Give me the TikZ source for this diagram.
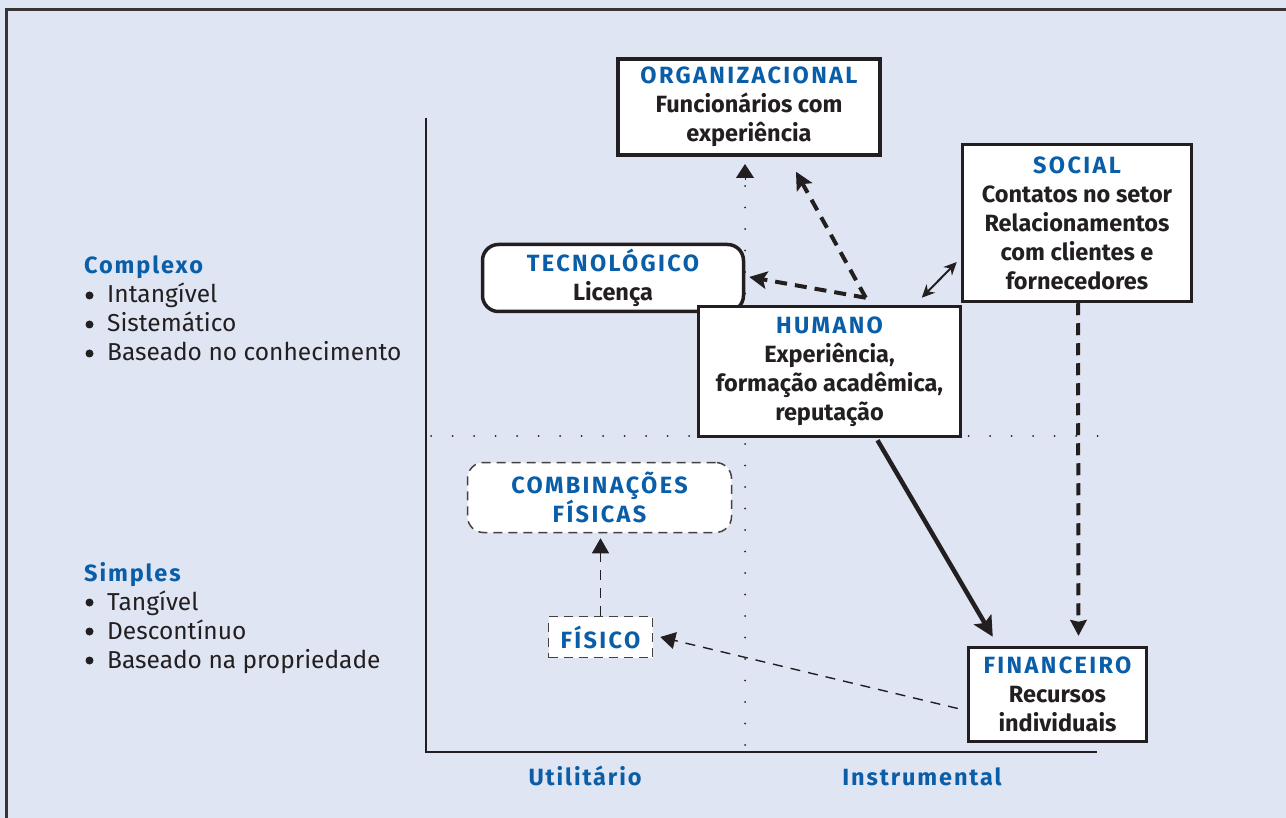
\documentclass[tikz,border=0pt]{standalone}
\usepackage{fontspec}
\setmainfont{Fira Sans}
\newfontfamily\titlefont{Fira Sans}[LetterSpace=10]
\newfontfamily\sidefont{Fira Sans}[LetterSpace=8]
\usetikzlibrary{arrows.meta,calc}
\definecolor{bg}{HTML}{DFE5F3}
\definecolor{ink}{HTML}{231F20}
\definecolor{blu}{HTML}{0A5EA8}
\tikzset{
  boxtxt/.style={font=\bfseries\fontsize{23.5}{29}\selectfont, text=ink, align=center, inner sep=0pt},
  hardbox/.style={boxtxt, draw=ink, fill=white, line width=3.5pt},
  softbox/.style={boxtxt, draw=ink!85, fill=white, line width=1.5pt, dash pattern=on 9pt off 6pt},
  dotline/.style={draw=ink, line width=2pt, line cap=round, dash pattern=on 0pt off 21.5pt},
  thickdash/.style={draw=ink, line width=4pt, dash pattern=on 12pt off 8pt},
  thindash/.style={draw=ink, line width=1.4pt, dash pattern=on 10pt off 8pt},
  tipA/.style={-{Stealth[length=18pt,width=18pt,inset=4pt]}},
  tipT/.style={-{Triangle[length=15pt,width=17pt]}},
  sidetxt/.style={font=\fontsize{24.5}{29}\selectfont, text=ink, anchor=base west, inner sep=0pt},
  sidettl/.style={font=\sidefont\bfseries\fontsize{23.5}{29}\selectfont, text=blu, anchor=base west, inner sep=0pt},
  axlabel/.style={font=\sidefont\bfseries\fontsize{23.5}{25}\selectfont, text=blu, inner sep=0pt, anchor=base},
  bullet/.style={fill=ink},
}
\newcommand{\ttl}[1]{\textcolor{blu}{\titlefont #1}}
\begin{document}
\begin{tikzpicture}[x=1pt,y=-1pt]
\useasboundingbox (0,0) rectangle (1286,818);
\fill[bg] (0,0) rectangle (1286,818);
% frame
\draw[ink!90, line width=3pt] (5,9.5) -- (1286,9.5);
\draw[ink!90, line width=3pt] (6.5,8) -- (6.5,818);

% axes
\coordinate (ax0) at (426,752);
\coordinate (axT) at (426,118);
\coordinate (axR) at (1097,752);
\draw[ink, line width=2.2pt] (axT) -- (ax0) -- (axR);

% dotted guides
\coordinate (dvB) at (745,745);
\coordinate (dvT) at (745,164);
\coordinate (dhL) at (431,436);
\coordinate (dhR) at (1098,436);
\draw[dotline] (dhL) -- (dhR);
\draw[dotline] (dvB) -- (745,185);
\draw[ink, line width=1pt, -{Triangle[length=14pt,width=18pt]}] (745,180) -- (dvT);

% side labels
\node[sidettl] (cx) at (84,274) {Complexo};
\node[sidetxt] (cx1) at (107,303) {Intangível};
\node[sidetxt] (cx2) at (107,332) {Sistemático};
\node[sidetxt] (cx3) at (107,361) {Baseado no conhecimento};
\node[sidettl] (sp) at (84,581) {Simples};
\node[sidetxt] (sp1) at (107,610) {Tangível};
\node[sidetxt] (sp2) at (107,639) {Descontínuo};
\node[sidetxt] (sp3) at (107,668) {Baseado na propriedade};
\foreach \n in {cx1,cx2,cx3,sp1,sp2,sp3}
  \fill[bullet] ($(\n.base west)+(-17.5,-7.5)$) circle (4pt);

\node[axlabel] (ut) at (585,785) {Utilitário};
\node[axlabel] (in) at (922,785) {Instrumental};

% boxes
\node[hardbox, minimum width=262, minimum height=96] (org) at (749,107)
  {\ttl{ORGANIZACIONAL}\\Funcionários com\\experiência};
\node[hardbox, minimum width=229, minimum height=157] (soc) at (1077,223)
  {\ttl{SOCIAL}\\Contatos no setor\\Relacionamentos\\com clientes e\\fornecedores};
\node[hardbox, rounded corners=16pt, minimum width=261, minimum height=67] (tec) at (613,278)
  {\ttl{TECNOLÓGICO}\\Licença};
\node[hardbox, minimum width=262, minimum height=130] (hum) at (829.5,371.5)
  {\ttl{HUMANO}\\Experiência,\\formação acadêmica,\\reputação};
\node[softbox, rounded corners=16pt, minimum width=264, minimum height=70] (comb) at (599.5,497.5)
  {\ttl{COMBINAÇÕES}\\\ttl{FÍSICAS}};
\node[softbox, minimum width=104, minimum height=41] (fis) at (600.5,637)
  {\ttl{FÍSICO}};
\node[hardbox, minimum width=178, minimum height=94] (fin) at (1057.5,694.5)
  {\ttl{FINANCEIRO}\\Recursos\\individuais};

% connectors
\coordinate (hs) at ($(hum.north west)+(169,-7)$);
\coordinate (orgT) at ($(org.south)+(47,15)$);
\coordinate (tecT) at ($(tec.east)+(4,-1)$);
\draw[thickdash] (hs) -- ($(orgT)!14pt!(hs)$);
\draw[ink, tipA, line width=1pt] ($(orgT)!16pt!(hs)$) -- (orgT);
\draw[thickdash] (hs) -- ($(tecT)!14pt!(hs)$);
\draw[ink, tipA, line width=1pt] ($(tecT)!16pt!(hs)$) -- (tecT);

\coordinate (dA) at ($(hum.north west)+(225,-7)$);
\coordinate (dB) at ($(soc.west)+(-4,39)$);
\draw[ink, line width=2pt, {Stealth[length=13pt,width=12pt]}-{Stealth[length=13pt,width=12pt]}] (dA) -- (dB);

\coordinate (sB) at ($(soc.south)+(1,0)$);
\coordinate (fT) at ($(fin.north)+(21,-10)$);
\draw[thickdash] (sB) -- ($(fT)!12pt!(sB)$);
\draw[ink, line width=1pt, -{Stealth[length=16pt,width=17pt,inset=2pt]}] ($(fT)!14pt!(sB)$) -- (fT);

\coordinate (hB) at ($(hum.south)+(48,2)$);
\coordinate (fS) at ($(fin.north west)+(26,-9)$);
\draw[ink, line width=4.5pt, -{Stealth[length=20pt,width=20pt,inset=4pt]}] (hB) -- (fS);

\coordinate (fL) at ($(fin.west)+(-9,14)$);
\coordinate (fisR) at ($(fis.east)+(7,0)$);
\draw[thindash] (fL) -- ($(fisR)!12pt!(fL)$);
\draw[ink, line width=1pt, tipT] ($(fisR)!14pt!(fL)$) -- (fisR);

\coordinate (comB) at ($(comb.south)+(1,5)$);
\draw[thindash] (fis.north) -- ($(comB)!12pt!(fis.north)$);
\draw[ink, line width=1pt, tipT] ($(comB)!14pt!(fis.north)$) -- (comB);
\end{tikzpicture}
\end{document}
